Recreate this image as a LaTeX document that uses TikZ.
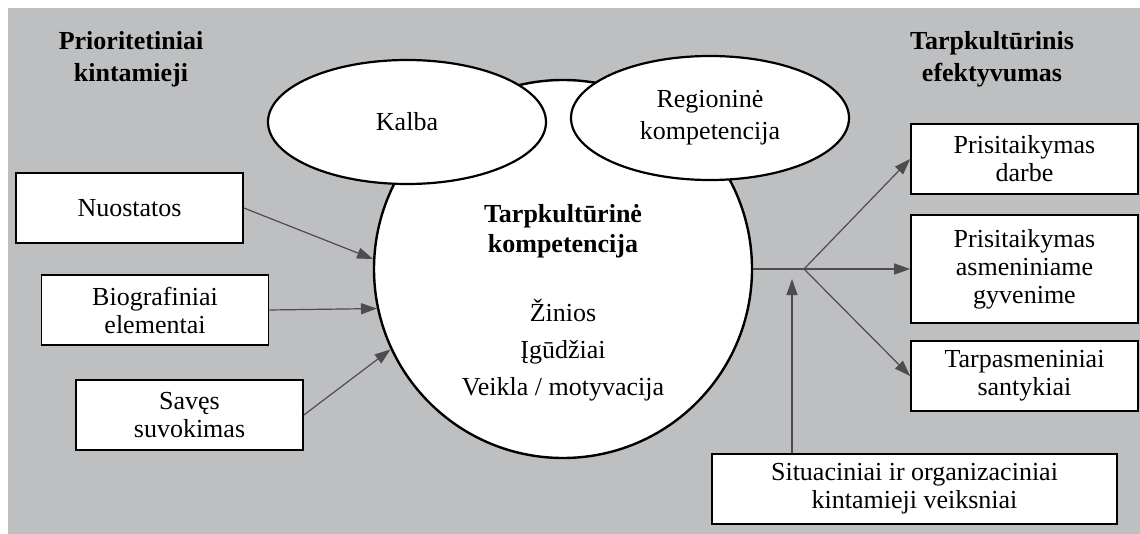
\documentclass[tikz,border=0pt]{standalone}
\usepackage{fontspec}
\setmainfont{Liberation Serif}
\usetikzlibrary{shapes.geometric,arrows.meta}
\definecolor{bggray}{RGB}{190,191,193}
\definecolor{arrgray}{RGB}{77,77,79}

\begin{document}
\begin{tikzpicture}[x=0.5pt, y=-0.5pt,
  box/.style={draw, line width=0.85pt, fill=white, align=center, inner sep=0pt,
    minimum width=113.5pt, minimum height=35pt, font=\fontsize{13}{14}\selectfont},
  oval/.style={draw, ellipse, line width=1.1pt, fill=white, align=center, inner sep=0pt,
    minimum width=139pt, minimum height=62pt, font=\fontsize{13}{16}\selectfont},
  head/.style={align=center, font=\fontsize{13}{16}\bfseries\selectfont},
  link/.style={draw=arrgray, line width=0.6pt, -{Triangle[length=8pt,width=5.5pt]}}]
  \useasboundingbox (0,0) rectangle (1140,534);
  \fill[bggray] (8,8) rectangle (1140,534);

  % headers
  \node[head] (prior) at (131,59) {Prioritetiniai\\kintamieji};
  \node[head] (efekt) at (992,59) {Tarpkultūrinis\\efektyvumas};

  % centre
  \node[draw, circle, line width=1.2pt, fill=white, inner sep=0pt, minimum size=189pt] (kk) at (563,269) {};
  \node[oval] (kalba) at (407,122) {Kalba};
  \node[oval] (reg) at (710,118) {Regioninė\\kompetencija};
  \node[align=center, font=\fontsize{13}{15}\bfseries\selectfont] (kkt) at (563,231) {Tarpkultūrinė\\kompetencija};
  \node[align=center, font=\fontsize{13}{18.5}\selectfont] (kkl) at (563,350) {Žinios\\Įgūdžiai\\Veikla / motyvacija};

  % left
  \node[box] (nuo) at (129.5,208) {Nuostatos};
  \node[box] (bio) at (155,310) {Biografiniai\\elementai};
  \node[box] (sav) at (189.5,415) {Savęs\\suvokimas};

  % right
  \node[box] (darb) at (1024.5,159) {Prisitaikymas\\darbe};
  \node[box, minimum height=54pt] (asm) at (1024.5,269) {Prisitaikymas\\asmeniniame\\gyvenime};
  \node[box] (tarp) at (1024.5,376) {Tarpasmeniniai\\santykiai};
  \node[box, minimum width=202.5pt] (sit) at (914.5,489) {Situaciniai ir organizaciniai\\kintamieji veiksniai};

  \coordinate (br) at (804,269);
  \coordinate (up) at (792,279);

  \draw[link] (nuo.east) -- (kk.177);
  \draw[link] (bio.east) -- (kk.192.5);
  \draw[link] (sav.east) -- (kk.205);
  \draw[draw=arrgray, line width=0.6pt] (kk.east) -- (br);
  \draw[link] (br) -- (darb.west);
  \draw[link] (br) -- (asm.west);
  \draw[link] (br) -- (tarp.west);
  \draw[link] (up |- sit.north) -- (up);
\end{tikzpicture}
\end{document}
